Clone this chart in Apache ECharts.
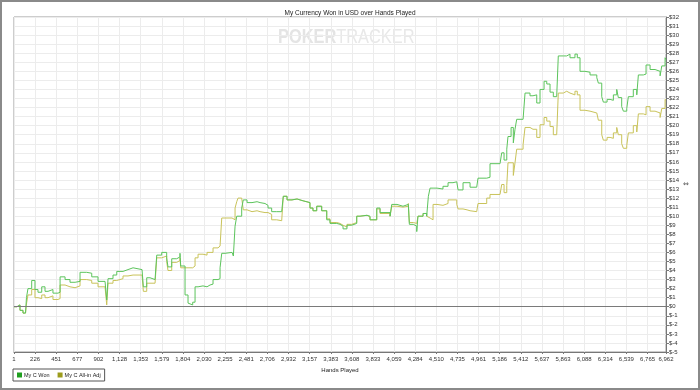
<!DOCTYPE html>
<html>
<head>
<meta charset="utf-8">
<script src="https://cdn.jsdelivr.net/npm/echarts@6/dist/echarts.min.js"></script>
<style>
html,body{margin:0;padding:0;background:#fff;}
#chart{width:700px;height:390px;}
</style>
</head>
<body>
<div id="chart"></div>
<script>
// ---- data ----
var hands = [1,33,65,97,124,134,150,190,225,257,297,332,364,417,471,493,546,599,653,706,777,831,898,973,991,1005,1058,1098,1165,1218,1272,1368,1382,1418,1453,1507,1525,1578,1631,1645,1685,1738,1773,1781,1827,1859,1880,1909,1934,1966,2019,2062,2094,2126,2179,2201,2219,2254,2329,2343,2361,2379,2393,2432,2449,2489,2542,2596,2628,2681,2713,2752,2806,2859,2876,2916,2969,3023,3087,3161,3193,3233,3286,3340,3375,3447,3482,3514,3556,3607,3660,3695,3770,3802,3874,3909,3962,4016,4034,4090,4154,4211,4222,4264,4301,4314,4368,4407,4425,4443,4475,4517,4581,4635,4688,4728,4742,4795,4838,4870,4941,4955,5048,5083,5190,5208,5233,5262,5275,5308,5332,5350,5368,5436,5457,5510,5542,5582,5617,5660,5689,5724,5759,5795,5812,5866,5902,5937,5990,6015,6044,6097,6151,6223,6240,6276,6293,6333,6365,6400,6436,6453,6489,6507,6543,6560,6613,6650,6667,6720,6749,6792,6845,6899,6917,6952,6962];
var wonValues = [0,0.2,-0.4,-0.7,-0.7,1.0,2.0,2.9,1.9,1.6,2.2,1.7,1.9,1.5,1.6,3.3,3.0,2.7,2.8,3.8,3.7,3.3,2.8,3.0,0.75,3.1,3.5,3.9,4.1,4.3,4.1,4.1,2.2,3.2,3.0,3.0,5.7,6.0,5.4,4.4,5.3,5.5,5.9,4.5,1.3,0.4,0.2,0.5,2.2,2.3,2.2,2.4,2.5,3.0,3.1,4.3,5.9,6.0,6.0,5.6,8.9,10.0,10.0,10.9,11.8,11.5,11.6,11.5,11.4,11.2,10.9,10.5,10.5,10.7,12.2,11.8,11.9,11.7,11.5,10.9,10.6,11.1,10.6,9.6,9.2,9.1,8.9,8.6,9.0,9.2,10.0,10.1,10.0,9.6,10.9,10.4,10.4,10.0,11.3,11.1,11.3,11.5,9.1,8.9,8.3,10.0,10.3,10.0,12.2,13.1,13.1,13.0,13.3,13.7,13.8,14.0,12.9,13.7,13.7,13.2,13.3,14.2,14.3,15.8,15.9,17.0,16.2,17.4,18.8,19.8,18.1,19.6,20.7,20.9,23.6,23.3,23.4,22.5,24.0,24.9,24.6,23.7,23.2,23.1,27.7,27.7,27.9,27.5,27.9,27.5,26.0,25.9,25.6,25.3,24.7,23.2,22.6,22.9,22.8,23.4,24.0,23.1,22.1,21.6,21.9,23.2,24.0,23.4,25.6,25.7,26.7,26.2,26.0,25.5,26.6,27.5,27.3];
var adjValues = [0,0.2,-0.4,-0.7,-0.7,0.3,1.3,1.9,1.0,0.9,1.3,1.0,1.2,0.8,0.9,2.4,2.2,2.1,2.3,3.0,2.9,2.6,2.2,2.3,0.2,2.6,2.9,3.1,3.4,3.5,3.5,3.5,1.7,2.6,2.6,2.6,5.4,5.6,5.0,4.0,4.9,5.1,5.4,4.3,4.3,4.2,4.3,4.5,5.4,5.8,5.7,6.0,6.0,6.5,6.7,6.9,9.8,9.8,9.7,9.6,10.9,11.6,12.0,11.9,10.7,10.5,10.6,10.5,10.4,10.4,10.2,9.6,9.5,9.6,12.2,11.8,11.9,11.7,11.5,10.9,10.6,11.1,10.6,9.7,9.3,9.2,9.0,8.8,9.1,9.3,10.0,10.1,9.9,9.6,10.8,10.3,10.3,10.0,11.1,11.0,11.1,11.4,9.3,9.2,9.0,10.0,10.3,10.0,9.8,9.6,11.3,11.2,11.4,11.8,11.8,11.3,10.8,10.7,10.6,10.5,10.7,11.4,12.0,12.4,12.4,13.5,12.6,13.4,15.9,15.9,14.5,15.9,17.4,17.9,19.8,19.6,19.6,18.7,20.1,20.9,20.5,19.9,19.0,19.2,23.6,23.8,23.6,23.4,23.8,23.4,21.7,21.6,21.4,21.2,20.6,19.0,18.4,18.7,18.6,19.2,19.8,19.0,18.0,17.5,17.8,19.2,20.0,19.3,21.3,21.2,22.1,21.6,21.4,20.9,21.9,22.9,22.8];
var xTicks = [1,226,451,677,902,1128,1353,1579,1804,2030,2255,2481,2706,2932,3157,3383,3608,3833,4059,4284,4510,4735,4961,5186,5412,5637,5863,6088,6314,6539,6765,6962];
var seriesNames = ['My C Won', 'My C All-in Adj'];
var titleText = 'My Currency Won in USD over Hands Played';
var xAxisName = 'Hands Played';

function pairs(xs, ys){ return xs.map(function(x,i){ return [x, ys[i]]; }); }

var FONT = '"Liberation Sans", Arial, sans-serif';
var chart = echarts.init(document.getElementById('chart'), null, {renderer:'canvas'});
chart.setOption({
  animation: false,
  backgroundColor: '#fff',
  title: {
    text: titleText, left: 'center', top: 5,
    textStyle: {fontSize: 6.5, fontWeight: 'normal', color: '#222', fontFamily: FONT}
  },
  graphic: [
    {type:'rect', shape:{x:1,y:1,width:698,height:388}, style:{fill:'none', stroke:'#8a8a8a', lineWidth:2}, z:100},
    {type:'text', x: 278, y: 27, scaleX: 0.78, z: 0, style:{
      text: '{a|POKER}{b|TRACKER}',
      rich: {
        a: {fontSize: 21, fontWeight: 'bold', fill: '#e4e4e4', fontFamily: '"Liberation Sans", Arial, sans-serif'},
        b: {fontSize: 21, fill: '#e8e8e8', fontFamily: '"Liberation Sans", Arial, sans-serif'}
      }
    }},
    {type:'text', x: 683, y: 181, style:{text:'\u21D4', fontSize: 7, fill:'#444', fontFamily: '"DejaVu Sans", sans-serif'}}
  ],
  legend: {
    left: 13, top: 369,
    orient: 'horizontal',
    icon: 'rect',
    itemWidth: 5, itemHeight: 5, itemGap: 8,
    padding: [3, 4, 3, 4],
    borderColor: '#555', borderWidth: 1,
    textStyle: {fontSize: 5.5, color: '#222', fontFamily: FONT, padding: [0,0,0,-3]},
    data: seriesNames
  },
  grid: {left: 14, right: 34, top: 17, bottom: 38, show: true, borderColor: '#9a9a9a', borderWidth: 1, containLabel: false},
  xAxis: {
    type: 'value', min: 1, max: 6962,
    name: xAxisName, nameLocation: 'middle', nameGap: 13,
    nameTextStyle: {fontSize: 6, color: '#222', fontFamily: FONT},
    axisLine: {show: true, onZero: false, lineStyle: {color: '#777'}},
    axisTick: {show: true, length: 2, customValues: xTicks, lineStyle: {color: '#777'}},
    axisLabel: {customValues: xTicks, fontSize: 6, color: '#333', margin: 4, fontFamily: FONT,
      formatter: function(v){ return Math.round(v).toLocaleString('en-US'); }},
    splitLine: {show: true, lineStyle: {color: '#ececec', width: 1}}
  },
  yAxis: {
    type: 'value', position: 'right', min: -5, max: 32, interval: 1,
    axisLine: {show: true, onZero: false, lineStyle: {color: '#777'}},
    axisTick: {show: true, length: 3, lineStyle: {color: '#777'}},
    axisLabel: {fontSize: 6, color: '#333', margin: 3, fontFamily: FONT,
      formatter: function(v){ return '$' + v; }},
    splitLine: {show: true, lineStyle: {color: '#ececec', width: 1}}
  },
  series: [
    {
      name: seriesNames[0], type: 'line', step: 'end', showSymbol: false, z: 3,
      data: pairs(hands, wonValues),
      itemStyle: {color: '#1f9f1f'},
      lineStyle: {color: '#5cc45c', width: 1},
      markLine: {silent: true, symbol: 'none', label: {show: false},
        lineStyle: {color: '#7a7a7a', type: 'solid', width: 1},
        data: [{yAxis: 0}]}
    },
    {
      name: seriesNames[1], type: 'line', step: 'end', showSymbol: false, z: 2,
      data: pairs(hands, adjValues),
      itemStyle: {color: '#9c9c1c'},
      lineStyle: {color: '#c9c35a', width: 1}
    }
  ]
});
</script>
</body>
</html>
